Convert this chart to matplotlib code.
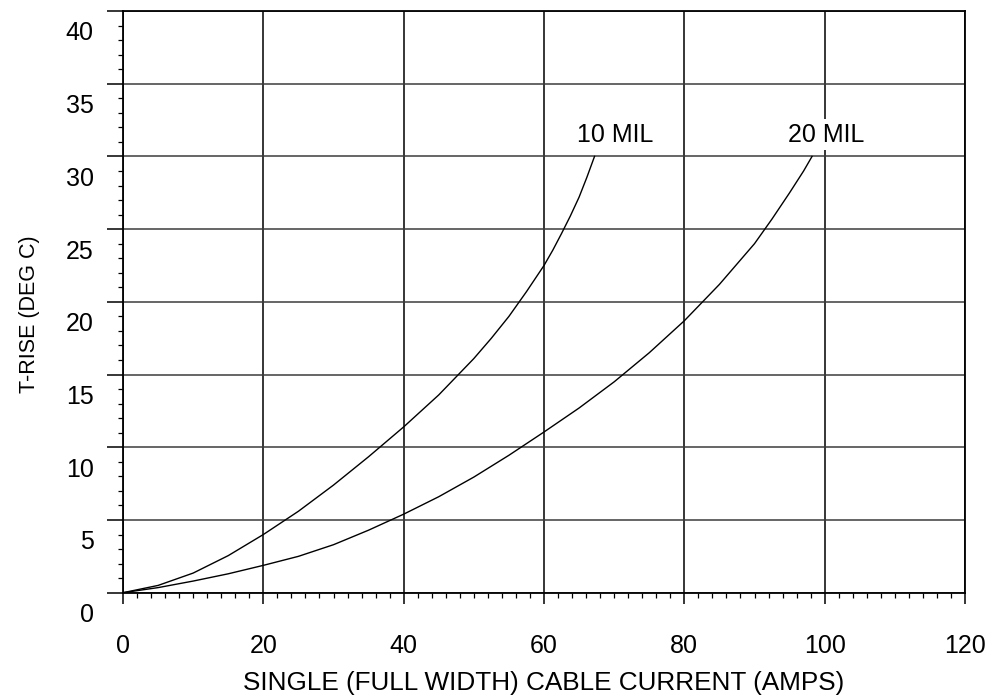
import matplotlib
matplotlib.use("Agg")
import matplotlib.pyplot as plt
import matplotlib.transforms as mtransforms
from matplotlib.ticker import MultipleLocator

# values
mil10_x = [0, 5, 10, 15, 20, 25, 30, 35, 40, 45, 50, 52.5, 55, 57.5, 60, 61.25, 62.5,
           63.75, 65, 66.1, 67.2]
mil10_y = [0, 0.5, 1.35, 2.55, 4.0, 5.6, 7.4, 9.35, 11.4, 13.6, 16.1, 17.5, 19.0, 20.7,
           22.5, 23.55, 24.7, 25.9, 27.2, 28.55, 30.0]
mil20_x = [0, 5, 10, 15, 20, 25, 30, 35, 40, 45, 50, 55, 60, 65, 70, 75, 80, 85, 90,
           92.5, 95, 97, 98.2]
mil20_y = [0, 0.35, 0.8, 1.3, 1.88, 2.5, 3.3, 4.3, 5.4, 6.6, 7.95, 9.45, 11.05, 12.7,
           14.5, 16.5, 18.7, 21.2, 24.0, 25.7, 27.5, 29.0, 30.0]
curve_labels = ["10 MIL", "20 MIL"]
label_pos = [(70.1, 31.5), (100.2, 31.5)]
x_ticks = [0, 20, 40, 60, 80, 100, 120]
y_ticks = [0, 5, 10, 15, 20, 25, 30, 35, 40]

plt.rcParams['font.family'] = ['Liberation Sans', 'DejaVu Sans']

fig = plt.figure(figsize=(9.92, 6.98), dpi=100)
ax = fig.add_axes([123 / 992, 1 - 592.7 / 698, 842 / 992, 581.7 / 698])

ax.plot(mil10_x, mil10_y, color="black", lw=1.0, zorder=3)
ax.plot(mil20_x, mil20_y, color="black", lw=1.0, zorder=3)

for txt, (px, py) in zip(curve_labels, label_pos):
    ax.text(px, py, txt, fontsize=18, ha="center", va="center", zorder=4,
            bbox=dict(boxstyle="square,pad=0.15", fc="white", ec="none"))

ax.set_xlim(0, 120)
ax.set_ylim(0, 40)
ax.set_xticks(x_ticks)
ax.set_yticks(y_ticks)
ax.xaxis.set_minor_locator(MultipleLocator(2))
ax.yaxis.set_minor_locator(MultipleLocator(1))

ax.xaxis.grid(True, which="major", color="black", lw=1.1)
ax.yaxis.grid(True, which="major", color="#3c3c3c", lw=1.1)
ax.set_axisbelow(True)

for s in ax.spines.values():
    s.set_color("black")
    s.set_linewidth(1.3)

ax.tick_params(axis="x", which="major", direction="out", length=8, width=1.1,
               pad=22, labelsize=18)
ax.tick_params(axis="x", which="minor", direction="out", length=3.5, width=0.9)
ax.tick_params(axis="y", which="major", direction="out", length=11.5, width=1.1,
               pad=9.5, labelsize=18)
ax.tick_params(axis="y", which="minor", direction="out", length=3.5, width=0.9)

# y tick labels in the reference sit below their gridlines
shift = mtransforms.ScaledTranslation(0, -0.20, fig.dpi_scale_trans)
for lab in ax.get_yticklabels():
    lab.set_transform(lab.get_transform() + shift)

ax.set_xlabel("SINGLE (FULL WIDTH) CABLE CURRENT (AMPS)", fontsize=18.8)
ax.xaxis.set_label_coords(0.5, (592.7 - 683) / 581.7)
ax.xaxis.label.set_va("center")
ax.set_ylabel("T-RISE (DEG C)", fontsize=15.5)
ax.yaxis.set_label_coords((30 - 123) / 842, (592.7 - 314) / 581.7)
ax.yaxis.label.set_va("center")

fig.savefig("out.png", dpi=100)
